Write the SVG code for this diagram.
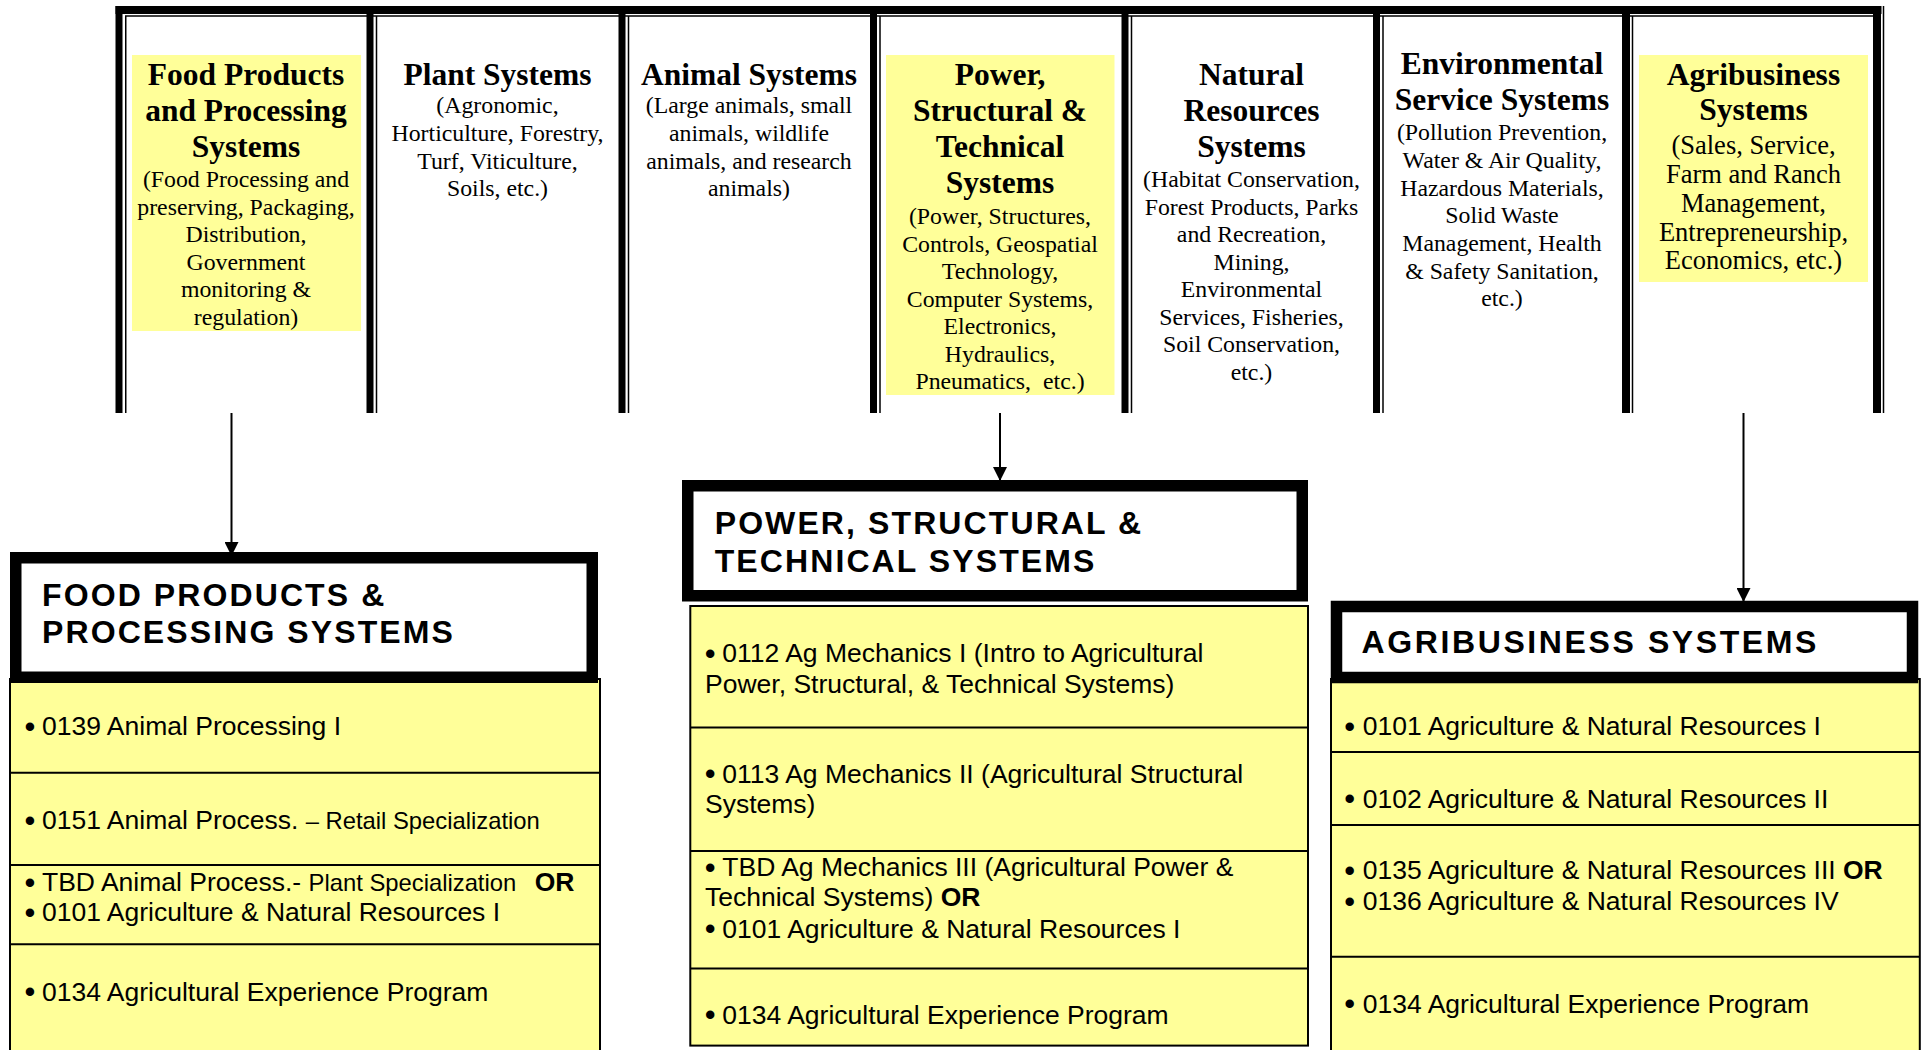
<svg xmlns="http://www.w3.org/2000/svg" width="1923" height="1050" viewBox="0 0 1923 1050">
<defs>
<style>
.band{fill:#000}
.thin{stroke:#000;stroke-width:1.5}
.hl{fill:#FFFF99}
.t{font-family:"Liberation Serif","Times New Roman",serif;font-size:31.5px;font-weight:bold;text-anchor:middle;fill:#000}
.s{font-family:"Liberation Serif","Times New Roman",serif;font-size:23.8px;text-anchor:middle;fill:#000}
.s2{font-size:26.5px}
.bt{font-family:"Liberation Sans",Arial,sans-serif;font-size:32px;font-weight:bold;letter-spacing:2.1px;fill:#000}
.tb{fill:#FFFF99;stroke:#000;stroke-width:2}
.row{stroke:#000;stroke-width:2}
.box{fill:#fff;stroke:#000;stroke-width:11.5}
.c{font-family:"Liberation Sans",Arial,sans-serif;font-size:26.5px;fill:#000}
.bul{font-size:31px}
.sm{font-size:23.8px}
.b{font-weight:bold}
.conn line{stroke:#000;stroke-width:2}
</style>
<marker id="ah" markerUnits="userSpaceOnUse" markerWidth="14" markerHeight="14" viewBox="0 0 14 14" refX="14" refY="7" orient="auto">
<path d="M0,0 L14,7 L0,14 z" fill="#000"/>
</marker>
</defs>
<rect width="1923" height="1050" fill="#fff"/>

<g id="frame">
<rect class="band" x="115.5" y="6" width="1766" height="8"/>
<line class="thin" x1="125" y1="16" x2="1881" y2="16"/>
<rect class="band" x="115.5" y="6" width="7" height="407"/>
<rect class="band" x="366.5" y="6" width="7" height="407"/>
<rect class="band" x="618.5" y="6" width="7" height="407"/>
<rect class="band" x="870" y="6" width="7" height="407"/>
<rect class="band" x="1121.5" y="6" width="7" height="407"/>
<rect class="band" x="1373" y="6" width="7" height="407"/>
<rect class="band" x="1622" y="6" width="8" height="407"/>
<rect class="band" x="1873" y="6" width="8" height="407"/>
<line class="thin" x1="125.75" y1="16" x2="125.75" y2="413"/>
<line class="thin" x1="376.5" y1="16" x2="376.5" y2="413"/>
<line class="thin" x1="628.5" y1="16" x2="628.5" y2="413"/>
<line class="thin" x1="880" y1="16" x2="880" y2="413"/>
<line class="thin" x1="1131.5" y1="16" x2="1131.5" y2="413"/>
<line class="thin" x1="1383" y1="16" x2="1383" y2="413"/>
<line class="thin" x1="1632.5" y1="16" x2="1632.5" y2="413"/>
<line class="thin" x1="1883.5" y1="6" x2="1883.5" y2="413"/>
</g>

<g id="col-food">
<rect class="hl" x="132" y="55" width="229" height="276"/>
<text class="t" x="246" y="85">Food Products</text>
<text class="t" x="246" y="121">and Processing</text>
<text class="t" x="246" y="157">Systems</text>
<text class="s" x="246" y="187">(Food Processing and</text>
<text class="s" x="246" y="214.5">preserving, Packaging,</text>
<text class="s" x="246" y="242">Distribution,</text>
<text class="s" x="246" y="269.5">Government</text>
<text class="s" x="246" y="297">monitoring &amp;</text>
<text class="s" x="246" y="324.5">regulation)</text>
</g>

<g id="col-plant">
<text class="t" x="497.5" y="85">Plant Systems</text>
<text class="s" x="497.5" y="113">(Agronomic,</text>
<text class="s" x="497.5" y="141">Horticulture, Forestry,</text>
<text class="s" x="497.5" y="168.5">Turf, Viticulture,</text>
<text class="s" x="497.5" y="196">Soils, etc.)</text>
</g>

<g id="col-animal">
<text class="t" x="749" y="85">Animal Systems</text>
<text class="s" x="749" y="113">(Large animals, small</text>
<text class="s" x="749" y="141">animals, wildlife</text>
<text class="s" x="749" y="168.5">animals, and research</text>
<text class="s" x="749" y="196">animals)</text>
</g>

<g id="col-power">
<rect class="hl" x="886" y="55" width="228.5" height="340"/>
<text class="t" x="1000" y="85">Power,</text>
<text class="t" x="1000" y="121">Structural &amp;</text>
<text class="t" x="1000" y="157">Technical</text>
<text class="t" x="1000" y="193">Systems</text>
<text class="s" x="1000" y="224">(Power, Structures,</text>
<text class="s" x="1000" y="251.5">Controls, Geospatial</text>
<text class="s" x="1000" y="279">Technology,</text>
<text class="s" x="1000" y="306.5">Computer Systems,</text>
<text class="s" x="1000" y="334">Electronics,</text>
<text class="s" x="1000" y="361.5">Hydraulics,</text>
<text class="s" x="1000" y="389">Pneumatics,&#160; etc.)</text>
</g>

<g id="col-natural">
<text class="t" x="1251.5" y="85">Natural</text>
<text class="t" x="1251.5" y="121">Resources</text>
<text class="t" x="1251.5" y="157">Systems</text>
<text class="s" x="1251.5" y="187">(Habitat Conservation,</text>
<text class="s" x="1251.5" y="214.5">Forest Products, Parks</text>
<text class="s" x="1251.5" y="242">and Recreation,</text>
<text class="s" x="1251.5" y="269.5">Mining,</text>
<text class="s" x="1251.5" y="297">Environmental</text>
<text class="s" x="1251.5" y="324.5">Services, Fisheries,</text>
<text class="s" x="1251.5" y="352">Soil Conservation,</text>
<text class="s" x="1251.5" y="380">etc.)</text>
</g>

<g id="col-environmental">
<text class="t" x="1502" y="74">Environmental</text>
<text class="t" x="1502" y="110">Service Systems</text>
<text class="s" x="1502" y="140">(Pollution Prevention,</text>
<text class="s" x="1502" y="168">Water &amp; Air Quality,</text>
<text class="s" x="1502" y="195.5">Hazardous Materials,</text>
<text class="s" x="1502" y="223">Solid Waste</text>
<text class="s" x="1502" y="251">Management, Health</text>
<text class="s" x="1502" y="278.5">&amp; Safety Sanitation,</text>
<text class="s" x="1502" y="306">etc.)</text>
</g>

<g id="col-agribusiness">
<rect class="hl" x="1639" y="55" width="229" height="227"/>
<text class="t" x="1753.5" y="85">Agribusiness</text>
<text class="t" x="1753.5" y="120">Systems</text>
<text class="s s2" x="1753.5" y="154">(Sales, Service,</text>
<text class="s s2" x="1753.5" y="183">Farm and Ranch</text>
<text class="s s2" x="1753.5" y="212">Management,</text>
<text class="s s2" x="1753.5" y="240.5">Entrepreneurship,</text>
<text class="s s2" x="1753.5" y="269">Economics, etc.)</text>
</g>

<g id="food-pathway">
<rect class="tb" x="10" y="679" width="590" height="420"/>
<line class="row" x1="10" y1="772.8" x2="600" y2="772.8"/>
<line class="row" x1="10" y1="865" x2="600" y2="865"/>
<line class="row" x1="10" y1="944.3" x2="600" y2="944.3"/>
<rect class="box" x="15.75" y="557.75" width="576.5" height="119.5"/>
<text class="bt" x="42" y="605.6">FOOD PRODUCTS &amp;</text>
<text class="bt" x="42" y="643">PROCESSING SYSTEMS</text>
<text class="c" x="24.5" y="735.4"><tspan class="bul" dy="1.5">•</tspan><tspan x="42" dy="-1.5">0139 Animal Processing I</tspan></text>
<text class="c" x="24.5" y="829"><tspan class="bul" dy="1.5">•</tspan><tspan x="42" dy="-1.5">0151 Animal Process. </tspan><tspan class="sm">– Retail Specialization</tspan></text>
<text class="c" x="24.5" y="891"><tspan class="bul" dy="1.5">•</tspan><tspan x="42" dy="-1.5">TBD Animal Process.- </tspan><tspan class="sm">Plant Specialization</tspan><tspan class="b" x="534.7">OR</tspan></text>
<text class="c" x="24.5" y="921.4"><tspan class="bul" dy="1.5">•</tspan><tspan x="42" dy="-1.5">0101 Agriculture &amp; Natural Resources I</tspan></text>
<text class="c" x="24.5" y="1000.6"><tspan class="bul" dy="1.5">•</tspan><tspan x="42" dy="-1.5">0134 Agricultural Experience Program</tspan></text>
</g>

<g id="power-pathway">
<rect class="tb" x="690.3" y="606" width="617.7" height="439.6"/>
<line class="row" x1="690.3" y1="727.4" x2="1308" y2="727.4"/>
<line class="row" x1="690.3" y1="851" x2="1308" y2="851"/>
<line class="row" x1="690.3" y1="968.4" x2="1308" y2="968.4"/>
<rect class="box" x="687.75" y="485.75" width="614.5" height="110"/>
<text class="bt" x="714.7" y="533.7">POWER, STRUCTURAL &amp;</text>
<text class="bt" x="714.7" y="571.9">TECHNICAL SYSTEMS</text>
<text class="c" x="704.8" y="662.3"><tspan class="bul" dy="1.5">•</tspan><tspan x="722.3" dy="-1.5">0112 Ag Mechanics I (Intro to Agricultural</tspan><tspan x="705" y="693.2">Power, Structural, &amp; Technical Systems)</tspan></text>
<text class="c" x="704.8" y="782.8"><tspan class="bul" dy="1.5">•</tspan><tspan x="722.3" dy="-1.5">0113 Ag Mechanics II (Agricultural Structural</tspan><tspan x="705" y="813">Systems)</tspan></text>
<text class="c" x="704.8" y="876"><tspan class="bul" dy="1.5">•</tspan><tspan x="722.3" dy="-1.5">TBD Ag Mechanics III (Agricultural Power &amp;</tspan><tspan x="705" y="906">Technical Systems) </tspan><tspan class="b">OR</tspan></text>
<text class="c" x="704.8" y="937.5"><tspan class="bul" dy="1.5">•</tspan><tspan x="722.3" dy="-1.5">0101 Agriculture &amp; Natural Resources I</tspan></text>
<text class="c" x="704.8" y="1023.9"><tspan class="bul" dy="1.5">•</tspan><tspan x="722.3" dy="-1.5">0134 Agricultural Experience Program</tspan></text>
</g>

<g id="agribusiness-pathway">
<rect class="tb" x="1331" y="679" width="588.8" height="420"/>
<line class="row" x1="1331" y1="751.9" x2="1919.8" y2="751.9"/>
<line class="row" x1="1331" y1="825" x2="1919.8" y2="825"/>
<line class="row" x1="1331" y1="956.8" x2="1919.8" y2="956.8"/>
<rect class="box" x="1336.5" y="606.5" width="576" height="71"/>
<text class="bt" x="1361.6" y="653" style="letter-spacing:2.6px">AGRIBUSINESS SYSTEMS</text>
<text class="c" x="1344.2" y="735.4"><tspan class="bul" dy="1.5">•</tspan><tspan x="1362.8" dy="-1.5">0101 Agriculture &amp; Natural Resources I</tspan></text>
<text class="c" x="1344.2" y="807.7"><tspan class="bul" dy="1.5">•</tspan><tspan x="1362.8" dy="-1.5">0102 Agriculture &amp; Natural Resources II</tspan></text>
<text class="c" x="1344.2" y="879.2"><tspan class="bul" dy="1.5">•</tspan><tspan x="1362.8" dy="-1.5">0135 Agriculture &amp; Natural Resources III </tspan><tspan class="b">OR</tspan></text>
<text class="c" x="1344.2" y="910.2"><tspan class="bul" dy="1.5">•</tspan><tspan x="1362.8" dy="-1.5">0136 Agriculture &amp; Natural Resources IV</tspan></text>
<text class="c" x="1344.2" y="1012.6"><tspan class="bul" dy="1.5">•</tspan><tspan x="1362.8" dy="-1.5">0134 Agricultural Experience Program</tspan></text>
</g>

<g id="connectors" class="conn">
<line x1="231.5" y1="413" x2="231.5" y2="556" marker-end="url(#ah)"/>
<line x1="1000" y1="413" x2="1000" y2="481" marker-end="url(#ah)"/>
<line x1="1743.5" y1="413" x2="1743.5" y2="602" marker-end="url(#ah)"/>
</g>
</svg>
